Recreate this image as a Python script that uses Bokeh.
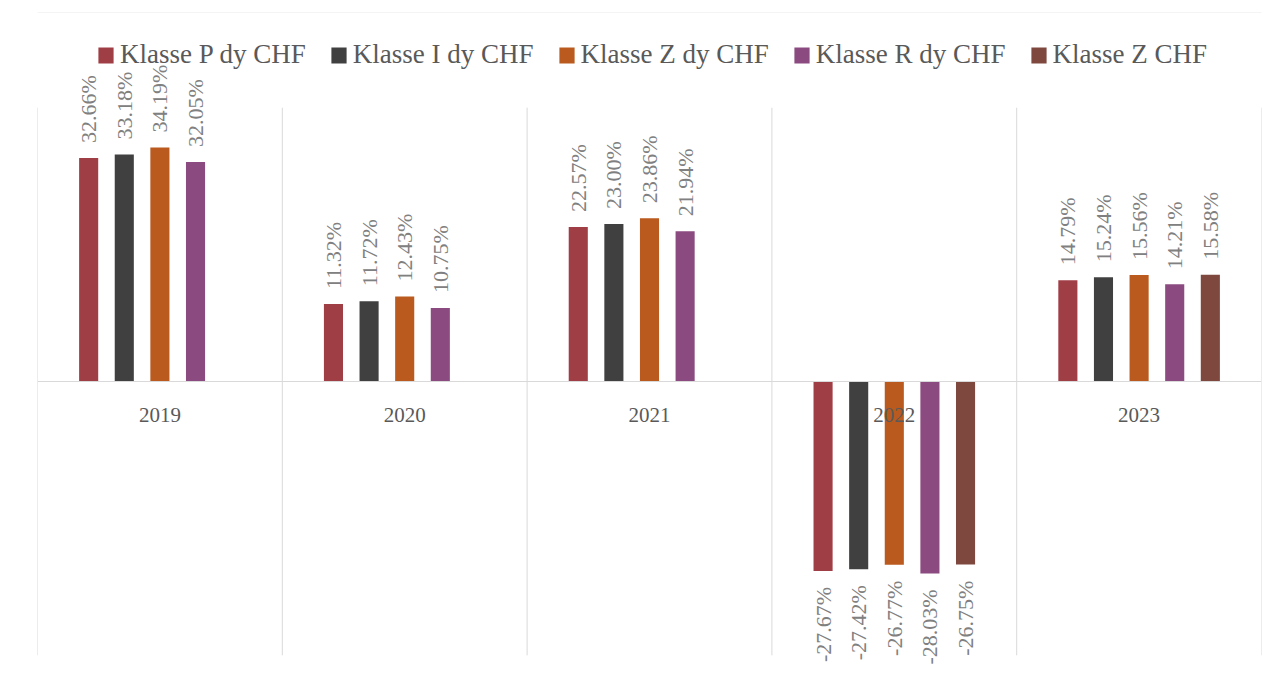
import math
from bokeh.plotting import figure
from bokeh.models import (FactorRange, ColumnDataSource, Legend, LegendItem, Range1d,
                          Span, BoxAnnotation)
from bokeh.transform import dodge
from bokeh.core.properties import value
from bokeh.embed import file_html
from bokeh.resources import INLINE

years = ["2019", "2020", "2021", "2022", "2023"]
series = ["Klasse P dy CHF", "Klasse I dy CHF", "Klasse Z dy CHF",
          "Klasse R dy CHF", "Klasse Z CHF"]
p_dy = [32.66, 11.32, 22.57, -27.67, 14.79]
i_dy = [33.18, 11.72, 23.00, -27.42, 15.24]
z_dy = [34.19, 12.43, 23.86, -26.77, 15.56]
r_dy = [32.05, 10.75, 21.94, -28.03, 14.21]
z_chf = [None, None, None, -26.75, 15.58]
values = [p_dy, i_dy, z_dy, r_dy, z_chf]
colors = ["#A03E46", "#404040", "#BA5A1E", "#8C4B80", "#7E483E"]

FONT = "Liberation Serif"
W, H = 1279, 677

p = figure(width=W, height=H, x_range=FactorRange(*years, range_padding=0),
           y_range=Range1d(-43.24, 55.66), output_backend="svg", toolbar_location=None,
           min_border_left=37, min_border_right=18, min_border_top=0,
           min_border_bottom=0)
p.outline_line_color = None
p.background_fill_color = "white"
p.border_fill_color = "white"
p.xgrid.visible = False
p.ygrid.visible = False
p.yaxis.visible = False
p.xaxis.visible = False

# outer chart border
p.add_layout(BoxAnnotation(left=7, right=1300, top=12, bottom=700,
                           left_units="canvas", right_units="canvas",
                           top_units="canvas", bottom_units="canvas",
                           fill_alpha=0, line_color="#D9D9D9", line_width=1))

# category boundary gridlines
gsrc = ColumnDataSource(dict(year=years, y0=[-40] * 5, y1=[40] * 5))
p.segment(x0=dodge("year", -0.5, range=p.x_range), x1=dodge("year", -0.5, range=p.x_range),
          y0="y0", y1="y1", source=gsrc, line_color="#D9D9D9", line_width=1)
gsrc2 = ColumnDataSource(dict(year=[years[-1]], y0=[-40], y1=[40]))
p.segment(x0=dodge("year", 0.5, range=p.x_range), x1=dodge("year", 0.5, range=p.x_range),
          y0="y0", y1="y1", source=gsrc2, line_color="#D9D9D9", line_width=1)
# zero axis line
p.add_layout(Span(location=0, dimension="width", line_color="#D9D9D9", line_width=1))

pitch = 0.1455
bw = 0.078
items = []
for k, (name, vals, col) in enumerate(zip(series, values, colors)):
    off = (k - 2) * pitch
    ys = [y for y, v in zip(years, vals) if v is not None]
    vs = [v for v in vals if v is not None]
    src = ColumnDataSource(dict(year=ys, val=vs))
    r = p.vbar(x=dodge("year", off, range=p.x_range), top="val", bottom=0, width=bw,
               source=src, fill_color=col, line_color=None)
    items.append(LegendItem(label=name, renderers=[r]))
    pos = [(y, v) for y, v in zip(ys, vs) if v >= 0]
    neg = [(y, v) for y, v in zip(ys, vs) if v < 0]
    for grp, align, yoff in ((pos, "left", -15), (neg, "right", 16)):
        if not grp:
            continue
        lsrc = ColumnDataSource(dict(year=[g[0] for g in grp], val=[g[1] for g in grp],
                                     lab=[f"{g[1]:.2f}%" for g in grp]))
        p.text(x=dodge("year", off, range=p.x_range), y="val", text="lab", source=lsrc,
               angle=math.pi / 2, text_align=align, text_baseline="middle",
               y_offset=yoff, text_font=value(FONT), text_font_size="22px",
               text_color="#808080")

# year labels below the zero line
ysrc = ColumnDataSource(dict(year=years, y=[0] * 5))
p.text(x="year", y="y", text="year", source=ysrc, y_offset=33, text_align="center",
       text_baseline="middle", text_font=value(FONT), text_font_size="21px",
       text_color="#595959")

legend = Legend(items=items, orientation="horizontal", location=(59, 607),
                glyph_width=19, glyph_height=20, label_standoff=5, spacing=23,
                padding=0, margin=0, border_line_color=None, background_fill_alpha=0,
                label_text_font=FONT, label_text_font_size="27px",
                label_text_color="#595959")
p.add_layout(legend, "center")

open("out.html", "w").write(file_html(p, INLINE))
